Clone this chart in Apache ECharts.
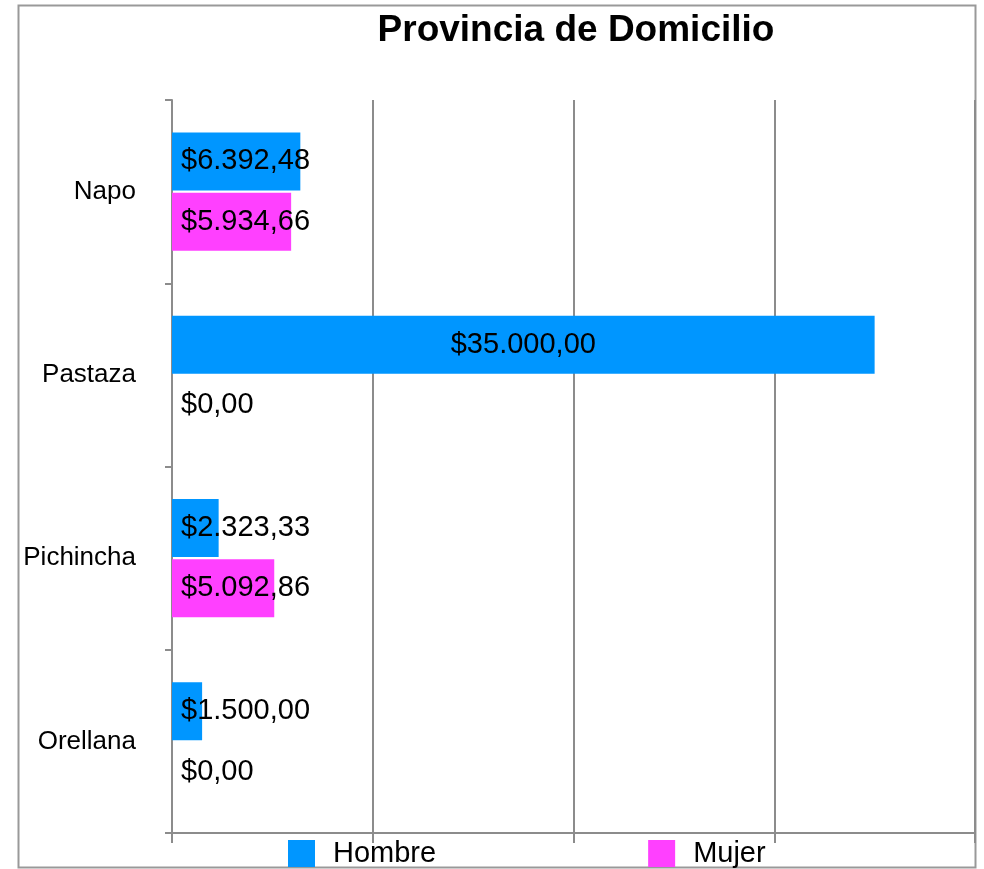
<!DOCTYPE html>
<html>
<head>
<meta charset="utf-8">
<script src="https://cdn.jsdelivr.net/npm/echarts@6/dist/echarts.min.js"></script>
<style>
  html, body { margin: 0; padding: 0; background: #fff; }
  #chart { width: 984px; height: 869px; }
</style>
</head>
<body>
<div id="chart"></div>
<script>
const categories = ['Napo', 'Pastaza', 'Pichincha', 'Orellana'];
const hombre = [6392.48, 35000.00, 2323.33, 1500.00];
const mujer = [5934.66, 0, 5092.86, 0];
const seriesNames = ['Hombre', 'Mujer'];

const FONT = '"Liberation Sans", Arial, sans-serif';
const GRID_COLOR = '#8c8c8c';

// $6.392,48 style
const money = (v) => {
  const parts = v.toFixed(2).split('.');
  const int = parts[0].replace(/\B(?=(\d{3})+(?!\d))/g, '.');
  return '$' + int + ',' + parts[1];
};

// long bars get the label centred, short ones start at the bar's base
const toItems = (arr) => arr.map(v => ({
  value: v,
  label: { position: v > 20000 ? 'inside' : 'insideLeft' }
}));

const chart = echarts.init(document.getElementById('chart'));

const barLabel = {
  show: true,
  color: '#000',
  fontSize: 29,
  fontFamily: FONT,
  distance: 9,
  formatter: (p) => money(p.value)
};

const option = {
  animation: false,
  backgroundColor: '#fff',
  title: {
    text: 'Provincia de Domicilio',
    left: 571,
    top: 7,
    textAlign: 'center',
    textStyle: {
      fontSize: 37,
      fontWeight: 'bold',
      color: '#000',
      fontFamily: FONT
    }
  },
  legend: {
    data: seriesNames,
    left: 288,
    top: 839,
    padding: 0,
    icon: 'rect',
    itemWidth: 27,
    itemHeight: 27,
    itemGap: 212,
    textStyle: {
      fontSize: 29,
      color: '#000',
      fontFamily: FONT,
      padding: [0, 0, 0, 13]
    }
  },
  graphic: [{
    type: 'rect',
    shape: { x: 18.5, y: 5.5, width: 957, height: 862 },
    style: { fill: 'none', stroke: '#999', lineWidth: 2 },
    z: -1
  }],
  grid: {
    left: 172,
    right: 9,
    top: 100,
    bottom: 36
  },
  xAxis: {
    type: 'value',
    min: 0,
    max: 40000,
    interval: 10000,
    axisLabel: { show: false },
    axisLine: { show: true, lineStyle: { color: GRID_COLOR, width: 2 } },
    axisTick: { show: true, length: 10, lineStyle: { color: GRID_COLOR, width: 2 } },
    splitLine: { show: true, lineStyle: { color: GRID_COLOR, width: 2 } }
  },
  yAxis: {
    type: 'category',
    data: categories,
    inverse: true,
    axisLine: { show: true, lineStyle: { color: GRID_COLOR, width: 2 } },
    axisTick: { show: true, length: 7, lineStyle: { color: GRID_COLOR, width: 2 } },
    axisLabel: {
      color: '#000',
      fontSize: 26,
      fontFamily: FONT,
      margin: 36
    }
  },
  series: [
    {
      name: seriesNames[0],
      type: 'bar',
      data: toItems(hombre),
      barWidth: 58,
      barGap: '4%',
      itemStyle: { color: '#0096ff' },
      label: barLabel
    },
    {
      name: seriesNames[1],
      type: 'bar',
      data: toItems(mujer),
      barWidth: 58,
      barGap: '4%',
      itemStyle: { color: '#ff40ff' },
      label: barLabel
    }
  ]
};

chart.setOption(option);
window.addEventListener('resize', () => chart.resize());
</script>
</body>
</html>
